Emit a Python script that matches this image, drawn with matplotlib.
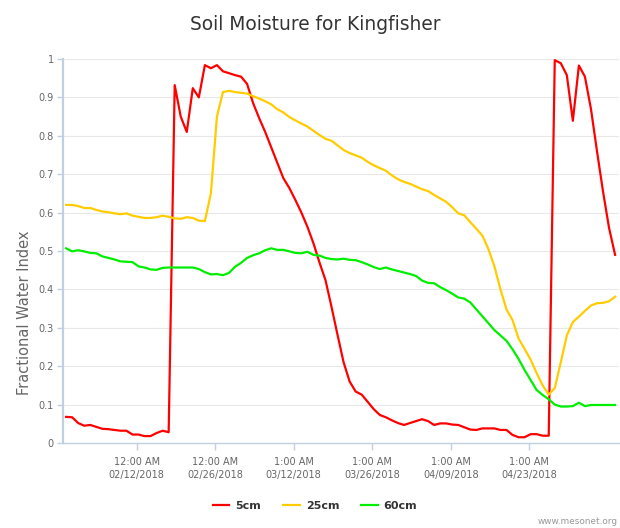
import matplotlib
matplotlib.use("Agg")
import matplotlib.pyplot as plt
import matplotlib.dates as mdates
from matplotlib.lines import Line2D
import pandas as pd

# ---------------- data ----------------
title = "Soil Moisture for Kingfisher"
y_label = "Fractional Water Index"
series_names = ["5cm", "25cm", "60cm"]
series_colors = ["#ff0000", "#ffcc00", "#00ee00"]
start_time = "2018-01-30 10:00"
end_time = "2018-05-08 07:00"

moist_5cm = [0.068, 0.067, 0.052, 0.045, 0.047, 0.042, 0.037, 0.036, 0.034, 0.032,
             0.032, 0.022, 0.022, 0.018, 0.018, 0.026, 0.032, 0.028, 0.932, 0.850,
             0.810, 0.924, 0.900, 0.984, 0.976, 0.984, 0.968, 0.963, 0.958, 0.954,
             0.935, 0.885, 0.846, 0.810, 0.770, 0.730, 0.690, 0.664, 0.633, 0.600,
             0.563, 0.520, 0.470, 0.424, 0.354, 0.281, 0.210, 0.160, 0.134, 0.126,
             0.107, 0.088, 0.073, 0.067, 0.059, 0.052, 0.047, 0.052, 0.057, 0.062,
             0.057, 0.047, 0.051, 0.051, 0.048, 0.047, 0.041, 0.035, 0.034, 0.038,
             0.038, 0.038, 0.034, 0.034, 0.021, 0.015, 0.015, 0.023, 0.023, 0.019,
             0.019, 0.997, 0.989, 0.958, 0.839, 0.983, 0.954, 0.870, 0.760, 0.655,
             0.560, 0.490]
moist_25cm = [0.620, 0.620, 0.617, 0.612, 0.612, 0.607, 0.603, 0.601, 0.598, 0.596,
              0.598, 0.592, 0.589, 0.586, 0.586, 0.588, 0.592, 0.589, 0.585, 0.584,
              0.588, 0.586, 0.579, 0.578, 0.650, 0.850, 0.914, 0.917, 0.914, 0.912,
              0.910, 0.903, 0.897, 0.890, 0.882, 0.869, 0.861, 0.849, 0.840, 0.832,
              0.824, 0.813, 0.802, 0.792, 0.787, 0.775, 0.763, 0.755, 0.749, 0.743,
              0.732, 0.723, 0.716, 0.709, 0.697, 0.687, 0.680, 0.675, 0.668, 0.661,
              0.656, 0.646, 0.637, 0.628, 0.614, 0.598, 0.593, 0.575, 0.558, 0.540,
              0.505, 0.460, 0.400, 0.348, 0.320, 0.272, 0.245, 0.217, 0.182, 0.150,
              0.126, 0.143, 0.210, 0.280, 0.315, 0.329, 0.344, 0.358, 0.364, 0.365,
              0.369, 0.381]
moist_60cm = [0.507, 0.499, 0.502, 0.499, 0.495, 0.494, 0.486, 0.482, 0.478, 0.473,
              0.472, 0.471, 0.460, 0.457, 0.452, 0.451, 0.456, 0.457, 0.457, 0.457,
              0.457, 0.457, 0.453, 0.445, 0.439, 0.440, 0.437, 0.443, 0.459, 0.469,
              0.482, 0.489, 0.494, 0.502, 0.507, 0.503, 0.503, 0.499, 0.495, 0.494,
              0.498, 0.490, 0.488, 0.482, 0.479, 0.478, 0.480, 0.477, 0.476, 0.471,
              0.465, 0.458, 0.453, 0.457, 0.452, 0.448, 0.444, 0.440, 0.435, 0.423,
              0.417, 0.416, 0.406, 0.398, 0.389, 0.379, 0.376, 0.366, 0.348, 0.330,
              0.312, 0.294, 0.280, 0.266, 0.244, 0.219, 0.190, 0.164, 0.138, 0.125,
              0.114, 0.100, 0.095, 0.095, 0.096, 0.105, 0.096, 0.099, 0.099, 0.099,
              0.099, 0.099]

tick_dates = ["2018-02-12", "2018-02-26", "2018-03-12", "2018-03-26", "2018-04-09", "2018-04-23"]
tick_labels = ["12:00 AM\n02/12/2018", "12:00 AM\n02/26/2018", "1:00 AM\n03/12/2018",
               "1:00 AM\n03/26/2018", "1:00 AM\n04/09/2018", "1:00 AM\n04/23/2018"]
y_ticks = [0, 0.1, 0.2, 0.3, 0.4, 0.5, 0.6, 0.7, 0.8, 0.9, 1.0]
y_tick_labels = ["0", "0.1", "0.2", "0.3", "0.4", "0.5", "0.6", "0.7", "0.8", "0.9", "1"]

# ---------------- figure ----------------
plt.rcParams["font.family"] = ["DejaVu Sans"]
W, H = 620, 528
fig = plt.figure(figsize=(W / 100, H / 100), dpi=100)
fig.patch.set_facecolor("white")

ax_left, ax_right, ax_top, ax_bot = 63, 619, 59, 443
ax = fig.add_axes([ax_left / W, 1 - ax_bot / H, (ax_right - ax_left) / W, (ax_bot - ax_top) / H])

times = pd.date_range(start_time, end_time, periods=len(moist_5cm))
for vals, name, col in zip([moist_5cm, moist_25cm, moist_60cm], series_names, series_colors):
    ax.plot(times, vals, color=col, lw=1.6, label=name, solid_joinstyle="round", zorder=3)

ax.set_ylim(0, 1)
ax.set_xlim(pd.Timestamp("2018-01-29 20:40"), pd.Timestamp("2018-05-08 23:45"))

ax.set_yticks(y_ticks)
ax.set_yticklabels(y_tick_labels)
ax.set_xticks([pd.Timestamp(d) for d in tick_dates])
ax.set_xticklabels(tick_labels, linespacing=1.45)

for yv in y_ticks[1:]:
    ax.axhline(yv, color="#e8e8e8", lw=0.8, zorder=1)

for s in ["top", "right"]:
    ax.spines[s].set_visible(False)
ax.spines["left"].set_color("#c0d0e0")
ax.spines["left"].set_linewidth(1.6)
ax.spines["bottom"].set_color("#c0d0e0")
ax.spines["bottom"].set_linewidth(1.0)

ax.tick_params(axis="y", colors="#c0d0e0", length=4, width=1, pad=2.5, labelsize=7, labelcolor="#666666")
ax.tick_params(axis="x", colors="#c0d0e0", length=5, width=1, pad=5, labelsize=7, labelcolor="#666666")

fig.text(315 / W, 1 - 24 / H, title, ha="center", va="center", fontsize=13.4, color="#333333")
fig.text(25 / W, 1 - 313 / H, y_label, ha="center", va="center", rotation=90, fontsize=10.5, color="#666666")

leg = fig.legend(loc="center", bbox_to_anchor=(315 / W, 1 - 506 / H), ncol=3, frameon=False,
                 handlelength=1.5, handletextpad=0.55, columnspacing=1.95,
                 prop={"size": 8, "weight": "bold"})
for t in leg.get_texts():
    t.set_color("#333333")
for l in leg.get_lines():
    l.set_linewidth(1.6)

fig.text(618 / W, 1 - 522 / H, "www.mesonet.org", ha="right", va="center", fontsize=6.4, color="#999999")

fig.savefig("out.png", dpi=100, facecolor="white")
